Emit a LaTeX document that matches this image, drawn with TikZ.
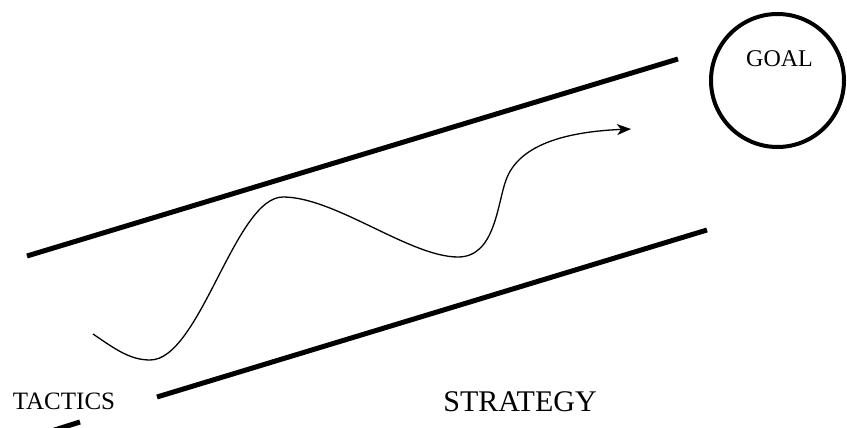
\documentclass[tikz,border=0pt]{standalone}
\usepackage{fontspec}
\setmainfont{Liberation Serif}
\usetikzlibrary{arrows.meta,positioning}

\begin{document}
\begin{tikzpicture}[
  x=1pt, y=-1pt,
  edge/.style={line width=5pt, draw=black},
  goalring/.style={draw=black, line width=4pt, circle, minimum size=133pt, inner sep=0pt},
  path/.style={line width=1.3pt, -{Stealth[length=14pt,width=11pt,inset=4pt]}},
  tag/.style={anchor=base, inner sep=0pt}
]
\useasboundingbox (0,0) rectangle (847,428);

% corridor
\coordinate (ua) at (27,256);
\coordinate (ub) at (678,59);
\coordinate (la) at (157,397);
\coordinate (lb) at (707,230);
\draw[edge] (ua) -- (ub);
\draw[edge] (la) -- (lb);
\begin{scope}
  \clip (0,0) rectangle (847,428);
  \coordinate (fa) at (80,422);
  \coordinate (fb) at (45,433);
  \draw[edge] (fa) -- (fb);
\end{scope}

% goal
\node[goalring] (goal) at (777.5,80.5) {};
\node[tag, font=\fontsize{24}{24}\selectfont] (goaltext) at (779.5,67) {GOAL};

% wandering route
\coordinate (start) at (93,334);
\coordinate (dip) at (150,360);
\coordinate (peak) at (283,197);
\coordinate (valley) at (458,257);
\coordinate (climb) at (506,180);
\coordinate (tip) at (631,129);
\draw[path] (start) .. controls (115,349) and (130,360) .. (dip)
  .. controls (200,360) and (235,197) .. (peak)
  .. controls (335,197) and (410,257) .. (valley)
  .. controls (495,257) and (497,205) .. (climb)
  .. controls (518,147) and (560,132) .. (tip);

% labels
\node[tag, font=\fontsize{25}{25}\selectfont] (tactics) at (64,409) {TACTICS};
\node[tag, font=\fontsize{30}{30}\selectfont] (strategy) at (520,411) {STRATEGY};

\end{tikzpicture}
\end{document}
